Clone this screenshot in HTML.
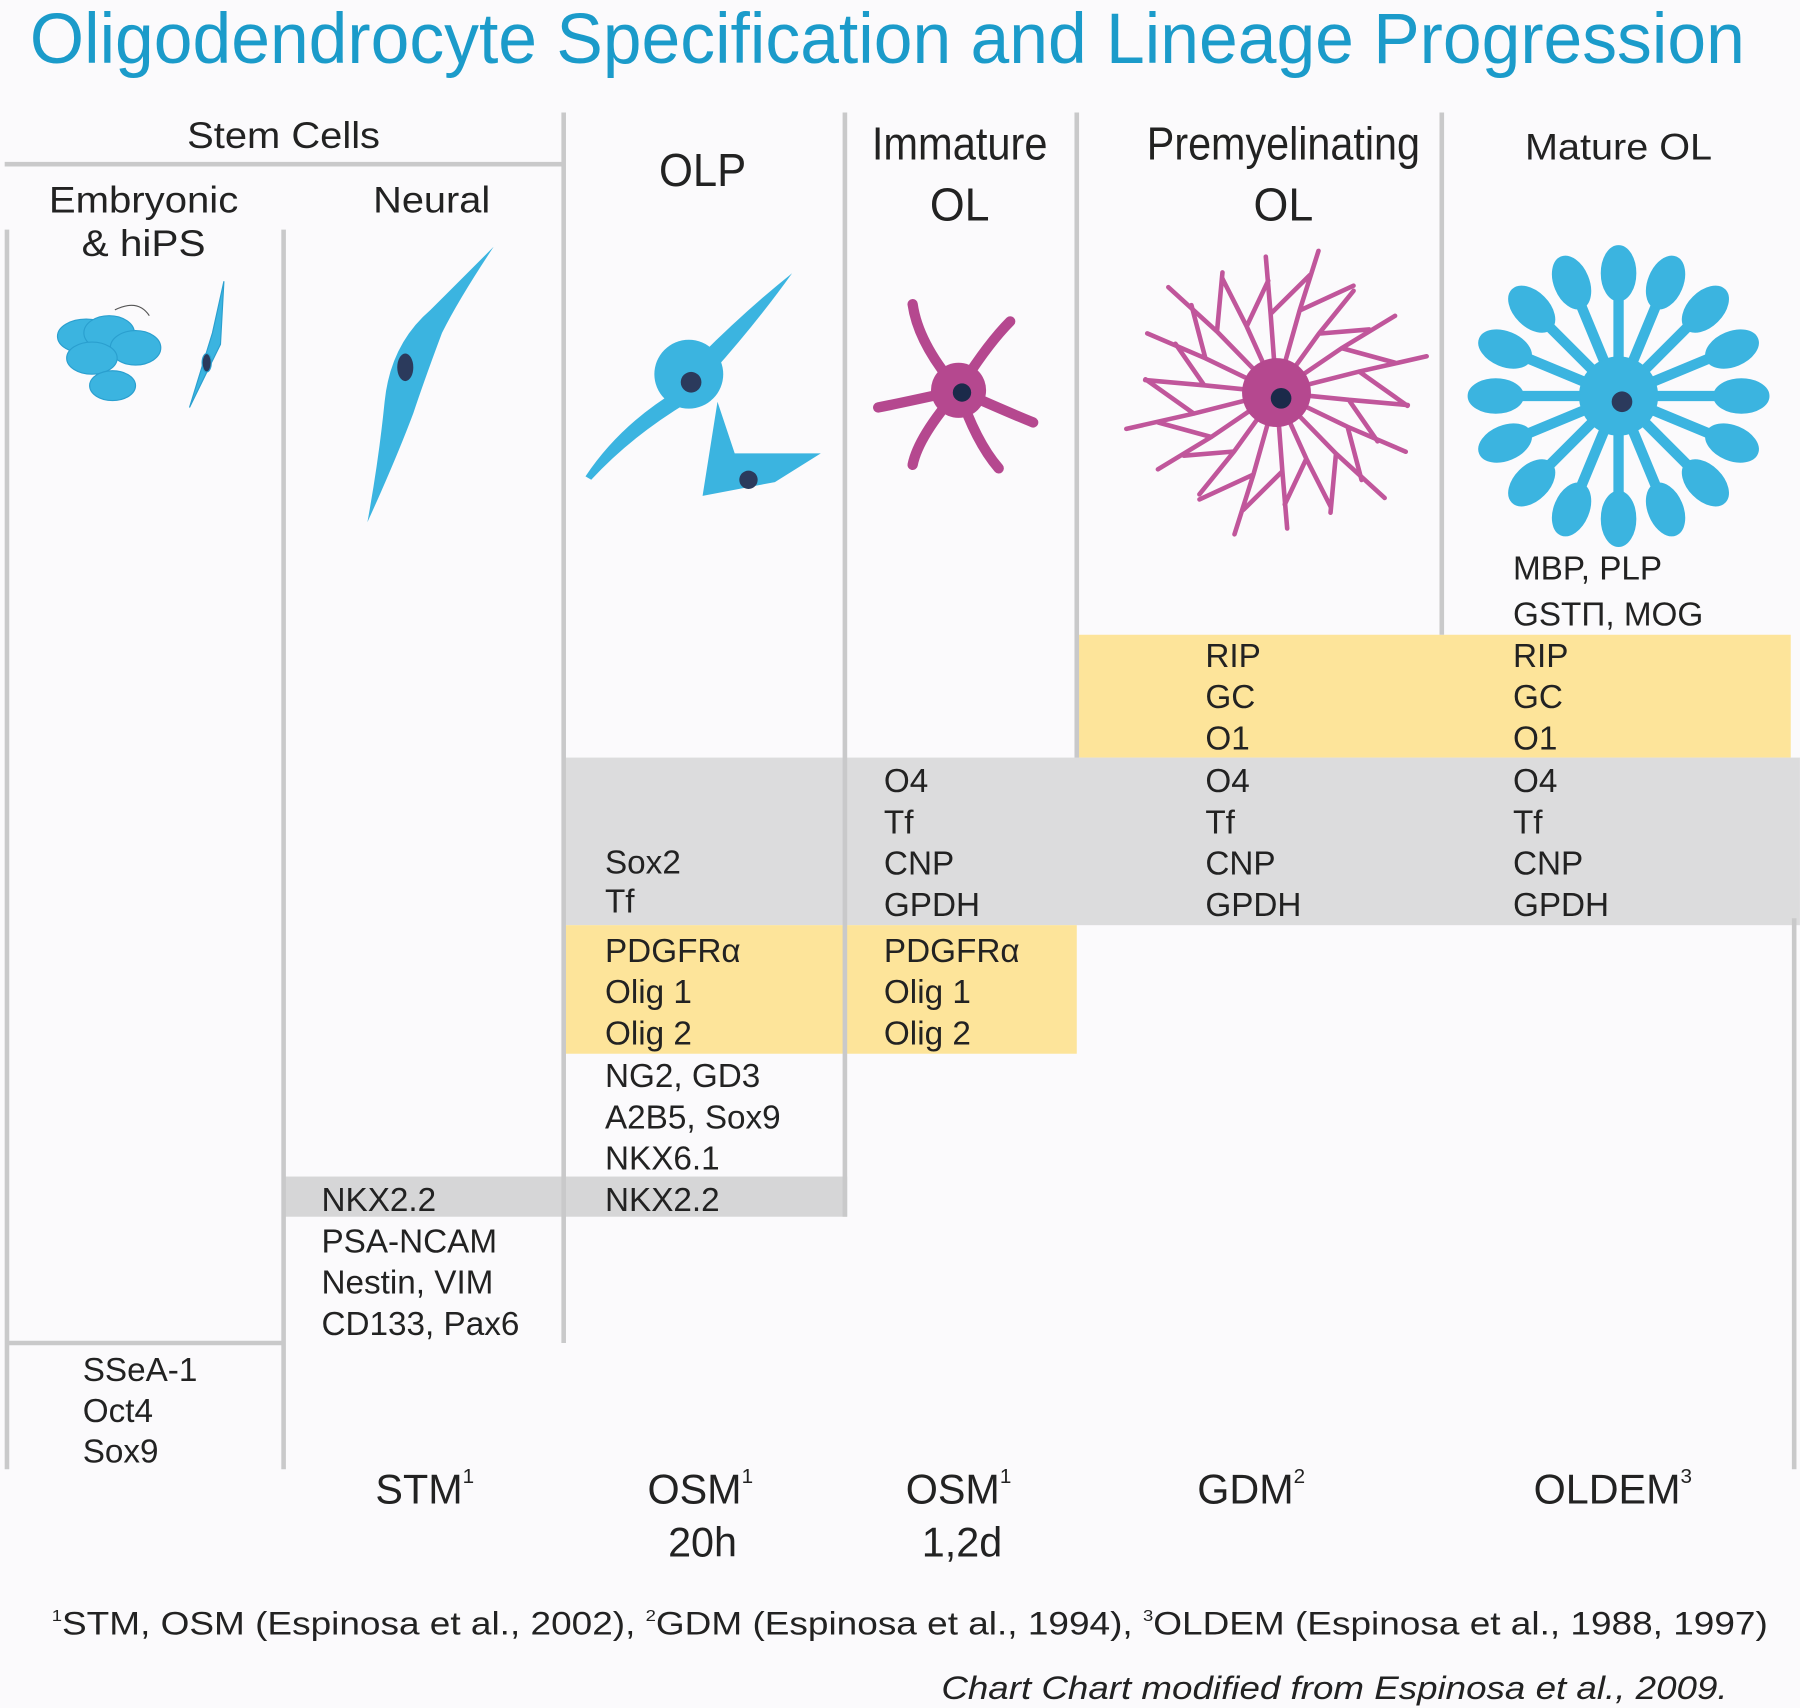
<!DOCTYPE html>
<html><head><meta charset="utf-8">
<style>
html,body{margin:0;padding:0;background:#fbfafc;}
svg{display:block;}
text{font-family:"Liberation Sans",sans-serif;}
</style></head>
<body>
<svg id="chart" width="1800" height="1708" viewBox="0 0 1568 1488" xmlns="http://www.w3.org/2000/svg">
<rect x="0" y="0" width="1568" height="1488" fill="#fbfafc"/>
<text x="26" y="55" font-size="62" fill="#1b9bca" textLength="1494" lengthAdjust="spacingAndGlyphs">Oligodendrocyte Specification and Lineage Progression</text>

<rect x="938" y="553" width="622" height="107" fill="#fde49a"/>
<rect x="491" y="660" width="1077" height="146" fill="#dcdcdd"/>
<rect x="491" y="806" width="447" height="112" fill="#fde49a"/>
<rect x="247" y="1025" width="491" height="35" fill="#d6d6d7"/>

<g stroke="#c9c9ca" stroke-width="4">
<line x1="6" y1="200" x2="6" y2="1280"/>
<line x1="247" y1="200" x2="247" y2="1280"/>
<line x1="491" y1="98" x2="491" y2="1170"/>
<line x1="736" y1="98" x2="736" y2="1060"/>
<line x1="938" y1="98" x2="938" y2="660"/>
<line x1="1256" y1="98" x2="1256" y2="553"/>
<line x1="1563" y1="800" x2="1563" y2="1280"/>
<line x1="4" y1="143" x2="491" y2="143"/>
<line x1="6" y1="1170" x2="247" y2="1170"/>
</g>

<g font-size="32" fill="#222" text-anchor="middle">
<text x="247" y="129" textLength="168" lengthAdjust="spacingAndGlyphs">Stem Cells</text>
<text x="125" y="185" textLength="165" lengthAdjust="spacingAndGlyphs">Embryonic</text>
<text x="125" y="223" textLength="108" lengthAdjust="spacingAndGlyphs">&amp; hiPS</text>
<text x="376" y="185" textLength="102" lengthAdjust="spacingAndGlyphs">Neural</text>
<text x="612" y="162" font-size="40" textLength="76" lengthAdjust="spacingAndGlyphs">OLP</text>
<text x="836" y="139" font-size="40" textLength="153" lengthAdjust="spacingAndGlyphs">Immature</text>
<text x="836" y="192" font-size="40" textLength="52" lengthAdjust="spacingAndGlyphs">OL</text>
<text x="1118" y="139" font-size="40" textLength="238" lengthAdjust="spacingAndGlyphs">Premyelinating</text>
<text x="1118" y="192" font-size="40" textLength="52" lengthAdjust="spacingAndGlyphs">OL</text>
<text x="1410" y="139" textLength="163" lengthAdjust="spacingAndGlyphs">Mature OL</text>
</g>

<g fill="#3bb4e0" stroke="#2a9fcf" stroke-width="1">
<ellipse cx="75" cy="293" rx="25" ry="15"/><ellipse cx="95" cy="290" rx="22" ry="15"/><ellipse cx="118" cy="303" rx="22" ry="15"/>
<ellipse cx="80" cy="312" rx="22" ry="14"/><ellipse cx="98" cy="336" rx="20" ry="13"/>
<path d="M165 355 L185 290 L195 245 L192 300 Z"/>
<ellipse cx="180" cy="316" rx="4" ry="8" fill="#2b3a5c"/>
<path d="M100 270 Q120 260 130 275" fill="none" stroke="#555"/>
</g>
<g>
<path d="M320 455 Q330 400 335 350 Q340 300 375 270 Q400 245 430 215 Q400 260 385 290 Q370 330 360 360 Q345 400 320 455Z" fill="#3bb4e0"/>
<ellipse cx="353" cy="320" rx="7" ry="12" fill="#2b3a5c"/>
</g>
<g fill="#3bb4e0">
<path d="M510 415 Q540 370 590 340 L600 350 Q550 380 515 418Z"/>
<path d="M610 310 Q650 270 690 238 Q660 280 620 325Z"/>
<circle cx="600" cy="326" r="30"/>
<circle cx="602" cy="333" r="9" fill="#2b3a5c"/>
<path d="M612 432 L625 350 L640 395 L715 395 L675 420 Z"/>
<circle cx="652" cy="418" r="8" fill="#2b3a5c"/>
</g>
<g stroke="#b5488f" stroke-width="9" stroke-linecap="round" fill="none">
<path d="M835 340 Q800 300 795 265"/><path d="M835 340 Q860 300 880 280"/>
<path d="M835 340 Q790 350 765 355"/><path d="M835 340 Q880 360 900 368"/>
<path d="M835 340 Q800 380 795 405"/><path d="M835 340 Q850 385 870 408"/>
<circle cx="835" cy="340" r="24" fill="#b5488f" stroke="none"/>
<circle cx="838" cy="342" r="8" fill="#1b2a4a" stroke="none"/>
</g>
<g id="premy" stroke="#c0569b" stroke-width="4" stroke-linecap="round" fill="none"></g>
<g id="mature" fill="#3bb4e0" stroke="#3bb4e0"></g>

<g font-size="29" fill="#222">
<text x="72" y="1203">SSeA-1</text><text x="72" y="1239">Oct4</text><text x="72" y="1274">Sox9</text>
<text x="280" y="1055">NKX2.2</text><text x="280" y="1091">PSA-NCAM</text><text x="280" y="1127">Nestin, VIM</text><text x="280" y="1163">CD133, Pax6</text>
<text x="527" y="761">Sox2</text><text x="527" y="795">Tf</text>
<text x="527" y="838">PDGFRα</text><text x="527" y="874">Olig 1</text><text x="527" y="910">Olig 2</text>
<text x="527" y="947">NG2, GD3</text><text x="527" y="983">A2B5, Sox9</text><text x="527" y="1019">NKX6.1</text><text x="527" y="1055">NKX2.2</text>
<text x="770" y="690">O4</text><text x="770" y="726">Tf</text><text x="770" y="762">CNP</text><text x="770" y="798">GPDH</text>
<text x="770" y="838">PDGFRα</text><text x="770" y="874">Olig 1</text><text x="770" y="910">Olig 2</text>
<text x="1050" y="581">RIP</text><text x="1050" y="617">GC</text><text x="1050" y="653">O1</text>
<text x="1050" y="690">O4</text><text x="1050" y="726">Tf</text><text x="1050" y="762">CNP</text><text x="1050" y="798">GPDH</text>
<text x="1318" y="505">MBP, PLP</text><text x="1318" y="545">GSTΠ, MOG</text>
<text x="1318" y="581">RIP</text><text x="1318" y="617">GC</text><text x="1318" y="653">O1</text>
<text x="1318" y="690">O4</text><text x="1318" y="726">Tf</text><text x="1318" y="762">CNP</text><text x="1318" y="798">GPDH</text>
</g>

<g font-size="36" fill="#222" text-anchor="middle">
<text x="370" y="1310">STM<tspan font-size="18" dy="-18">1</tspan></text>
<text x="610" y="1310">OSM<tspan font-size="18" dy="-18">1</tspan></text>
<text x="612" y="1356">20h</text>
<text x="835" y="1310">OSM<tspan font-size="18" dy="-18">1</tspan></text>
<text x="838" y="1356">1,2d</text>
<text x="1090" y="1310">GDM<tspan font-size="18" dy="-18">2</tspan></text>
<text x="1405" y="1310">OLDEM<tspan font-size="18" dy="-18">3</tspan></text>
</g>
<text x="45" y="1424" font-size="28" fill="#222" textLength="1495" lengthAdjust="spacingAndGlyphs"><tspan font-size="14" dy="-12">1</tspan><tspan dy="12">STM, OSM (Espinosa et al., 2002), </tspan><tspan font-size="14" dy="-12">2</tspan><tspan dy="12">GDM (Espinosa et al., 1994), </tspan><tspan font-size="14" dy="-12">3</tspan><tspan dy="12">OLDEM (Espinosa et al., 1988, 1997)</tspan></text>
<text x="820" y="1480" font-size="28" font-style="italic" fill="#222" textLength="685" lengthAdjust="spacingAndGlyphs">Chart Chart modified from Espinosa et al., 2009.</text>
</svg>
<script>
var NS="http://www.w3.org/2000/svg";
var premy=document.getElementById('premy');
var cx=1112,cy=342;
for(var i=0;i<18;i++){
  var a=i/18*Math.PI*2+0.1;
  var r=115+ (i%3)*10;
  var ex=cx+Math.cos(a)*r, ey=cy+Math.sin(a)*r*0.95;
  var mx=cx+Math.cos(a)*r*0.55, my=cy+Math.sin(a)*r*0.55;
  var p=document.createElementNS(NS,'path');
  p.setAttribute('d','M'+cx+' '+cy+' L'+mx+' '+my+' L'+ex+' '+ey+' M'+mx+' '+my+' L'+(cx+Math.cos(a+0.35)*r*0.85)+' '+(cy+Math.sin(a+0.35)*r*0.85));
  
  
  premy.appendChild(p);
}
var c=document.createElementNS(NS,'circle');c.setAttribute('cx',cx);c.setAttribute('cy',cy);c.setAttribute('r',30);c.setAttribute('fill','#b5488f');c.setAttribute('stroke','none');


premy.appendChild(c);
var n=document.createElementNS(NS,'circle');n.setAttribute('cx',cx+4);n.setAttribute('cy',cy+5);n.setAttribute('r',9);n.setAttribute('fill','#1b2a4a');n.setAttribute('stroke','none');


premy.appendChild(n);

var mature=document.getElementById('mature');
var mx0=1410,my0=345;
for(var j=0;j<16;j++){
  var b=j/16*Math.PI*2;
  var R=95;
  var l=document.createElementNS(NS,'line');
  l.setAttribute('x1',mx0);l.setAttribute('y1',my0);
  l.setAttribute('x2',mx0+Math.cos(b)*R);l.setAttribute('y2',my0+Math.sin(b)*R);
  l.setAttribute('stroke-width',9);
  
  
  mature.appendChild(l);
  var e=document.createElementNS(NS,'ellipse');
  e.setAttribute('cx',mx0+Math.cos(b)*(R+12));e.setAttribute('cy',my0+Math.sin(b)*(R+12));
  e.setAttribute('rx',24);e.setAttribute('ry',15);
  e.setAttribute('transform','rotate('+(b*180/Math.PI)+' '+(mx0+Math.cos(b)*(R+12))+' '+(my0+Math.sin(b)*(R+12))+')');
  
  
  mature.appendChild(e);
}
var mc=document.createElementNS(NS,'circle');mc.setAttribute('cx',mx0);mc.setAttribute('cy',my0);mc.setAttribute('r',34);


mature.appendChild(mc);
var mn=document.createElementNS(NS,'circle');mn.setAttribute('cx',mx0+3);mn.setAttribute('cy',my0+5);mn.setAttribute('r',9);mn.setAttribute('fill','#2b3a5c');mn.setAttribute('stroke','none');


mature.appendChild(mn);
</script>
</body></html>
